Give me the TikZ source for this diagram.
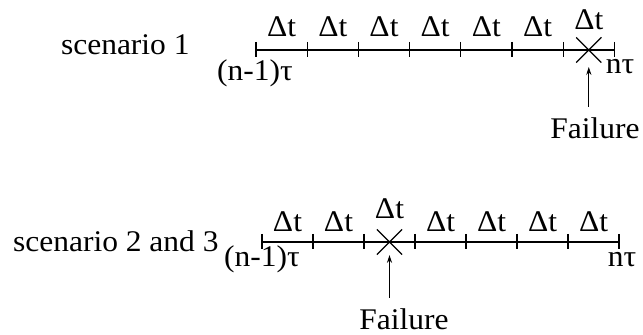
\documentclass[tikz,border=0pt]{standalone}
\usepackage{fontspec}
\setmainfont{Liberation Serif}[FakeStretch=1.05]
\usetikzlibrary{arrows.meta,shapes.misc,calc}

\begin{document}
\begin{tikzpicture}[
x=0.5pt,y=-0.5pt,
every node/.style={font=\fontsize{15}{18}\selectfont,inner sep=0pt,anchor=base},
axis/.style={line width=0.75pt},
tickmark/.style={line width=0.6pt},
cross/.style={draw,cross out,line width=0.6pt,minimum size=12pt},
arr/.style={-{Stealth[length=4pt,width=2.6pt]},line width=0.6pt}
]
\useasboundingbox (0,0) rectangle (643,335);

% scenario 1: failure in the last step
\node[anchor=base east] (sc1) at (190,55) {scenario 1};
\foreach \k in {0,...,7}
  \coordinate (a\k) at ({256+51.2*\k},50);
\draw[axis] (a0) -- (a7);
\foreach \k in {0,...,7}
  \draw[tickmark] ($(a\k)+(0,-8)$) -- ($(a\k)+(0,7)$);
\foreach \k in {0,...,5}
  \node (dta\k) at ({256+51.2*(\k+0.5)},37) {Δt};
\node (dta6) at ({256+51.2*6.5},30) {Δt};
\node (ta0) at (255,81) {(n-1)τ};
\node (ta7) at (620,74) {nτ};
\node[cross] (xa) at ($(a6)!0.5!(a7)$) {};
\node (fla) at (595,139) {Failure};
\draw[arr] ($(xa.center |- fla.north)+(0,-11)$) -- ($(xa.center)+(0,17)$);

% scenario 2 and 3: failure in the third step
\node[anchor=base east] (sc2) at (219,252) {scenario 2 and 3};
\foreach \k in {0,...,7}
  \coordinate (b\k) at ({262+51*\k},242);
\draw[axis] (b0) -- (b7);
\foreach \k in {0,...,7}
  \draw[tickmark] ($(b\k)+(0,-8)$) -- ($(b\k)+(0,7)$);
\foreach \k in {0,1,3,4,5,6}
  \node (dtb\k) at ({262+51*(\k+0.5)},232) {Δt};
\node (dtb2) at ({262+51*2.5},219) {Δt};
\node (tb0) at (262,267) {(n-1)τ};
\node (tb7) at (622,267) {nτ};
\node[cross] (xb) at ($(b2)!0.5!(b3)$) {};
\node (flb) at (404,330) {Failure};
\draw[arr] ($(xb.center |- flb.north)+(0,-11)$) -- ($(xb.center)+(0,13)$);
\end{tikzpicture}
\end{document}
